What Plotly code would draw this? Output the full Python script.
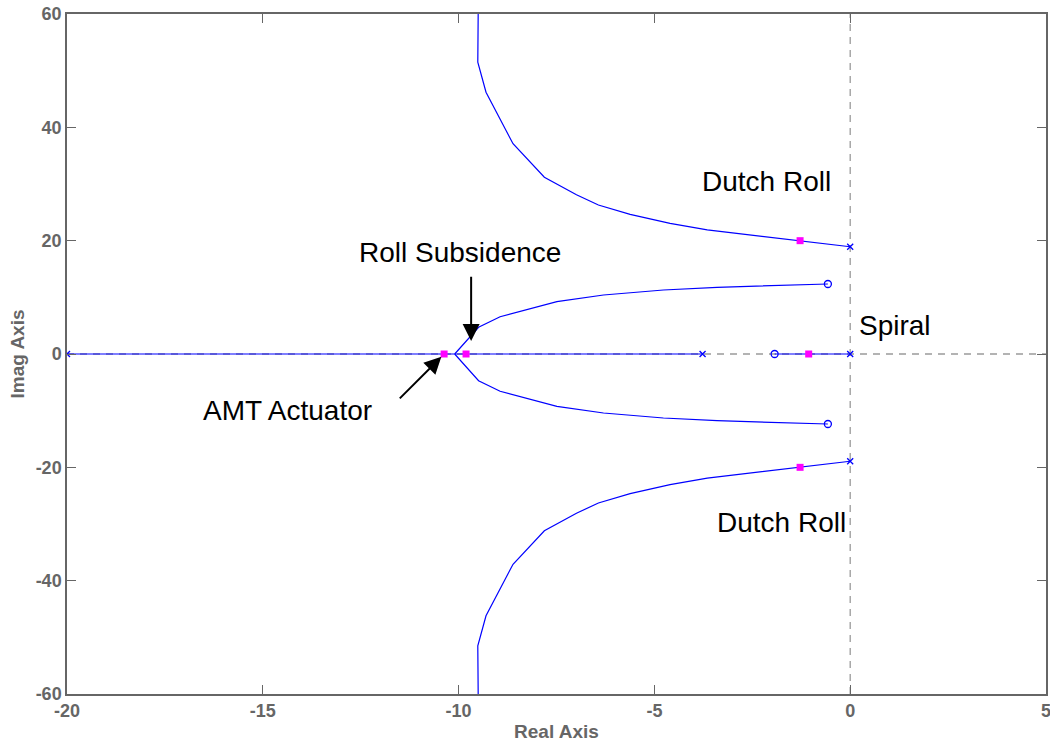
import plotly.graph_objects as go

# Upper Dutch-roll branch: pole at (0, 18.9) heading to the asymptote at -9.5
dutch_re = [0.0, -1.28, -1.97, -3.65, -4.60, -5.62, -6.43, -6.99, -7.81, -8.61, -9.30, -9.51, -9.50]
dutch_im = [18.93, 20.0, 20.6, 21.9, 23.06, 24.65, 26.3, 28.1, 31.2, 37.1, 46.2, 51.5, 60.0]

# Upper branch leaving the real axis at the breakaway point and ending on the complex zero
roll_re = [-10.10, -9.49, -8.94, -7.49, -6.30, -4.77, -3.40, -1.70, -0.57]
roll_im = [0.0, 4.71, 6.58, 9.23, 10.41, 11.29, 11.77, 12.05, 12.35]

# Real-axis segments
axis_left_re = [-20.0, -10.10]
axis_mid_re = [-10.10, -3.77]
axis_right_re = [-1.93, 0.0]

# Open-loop poles and zeros
pole_re = [-20.0, -3.77, 0.0, 0.0, 0.0]
pole_im = [0.0, 0.0, 0.0, 18.93, -18.93]
zero_re = [-1.93, -0.57, -0.57]
zero_im = [0.0, 12.35, -12.35]

# Closed-loop roots at the selected gain
cl_re = [-10.37, -9.81, -1.06, -1.28, -1.28]
cl_im = [0.0, 0.0, 0.0, 20.0, -20.0]

x_ticks = [-20, -15, -10, -5, 0, 5]
y_ticks = [-60, -40, -20, 0, 20, 40, 60]

BLUE = "#0000ff"
GRID = "#9a9a9a"
AXC = "#666666"
FONT = "Liberation Sans, Arial, sans-serif"

fig = go.Figure()

# Dashed zero lines
fig.add_trace(go.Scatter(x=[-20, 5], y=[0, 0], mode="lines",
                         line=dict(color=GRID, width=1.3, dash="7px,6px"),
                         hoverinfo="skip", showlegend=False))
fig.add_trace(go.Scatter(x=[0, 0], y=[-60, 60], mode="lines",
                         line=dict(color=GRID, width=1.3, dash="7px,6px"),
                         hoverinfo="skip", showlegend=False))

line_style = dict(color=BLUE, width=1.2)
for xs, ys in [
    (dutch_re, dutch_im),
    (dutch_re, [-v for v in dutch_im]),
    (roll_re, roll_im),
    (roll_re, [-v for v in roll_im]),
    (axis_left_re, [0, 0]),
    (axis_mid_re, [0, 0]),
    (axis_right_re, [0, 0]),
]:
    fig.add_trace(go.Scatter(x=xs, y=ys, mode="lines", line=line_style,
                             showlegend=False))

fig.add_trace(go.Scatter(x=pole_re, y=pole_im, mode="markers",
                         marker=dict(symbol="x-thin", size=6, color=BLUE,
                                     line=dict(color=BLUE, width=1.3)),
                         showlegend=False))
fig.add_trace(go.Scatter(x=zero_re, y=zero_im, mode="markers",
                         marker=dict(symbol="circle-open", size=7, color=BLUE,
                                     line=dict(color=BLUE, width=1.3)),
                         showlegend=False))
fig.add_trace(go.Scatter(x=cl_re, y=cl_im, mode="markers",
                         marker=dict(symbol="square", size=7, color="#ff00ff"),
                         showlegend=False))

label_font = dict(family=FONT, size=28, color="black")
for text, x, y in [
    ("Dutch Roll", -2.13, 30.4),
    ("Roll Subsidence", -9.96, 18.0),
    ("Spiral", 1.15, 5.1),
    ("AMT Actuator", -14.38, -9.9),
    ("Dutch Roll", -1.75, -29.8),
]:
    fig.add_annotation(x=x, y=y, text=text, showarrow=False, font=label_font,
                       xanchor="center", yanchor="middle")

# Pointer arrows
for tip, tail in [((-9.68, 2.3), (-9.68, 13.9)), ((-10.44, -0.5), (-11.54, -8.1))]:
    fig.add_annotation(x=tip[0], y=tip[1], ax=tail[0], ay=tail[1],
                       xref="x", yref="y", axref="x", ayref="y",
                       text="", showarrow=True, arrowhead=2, arrowsize=1.7,
                       arrowwidth=2, arrowcolor="black")

axis_common = dict(
    showgrid=False, zeroline=False, showline=True, linecolor=AXC, linewidth=1.5,
    mirror="ticks", ticks="inside", ticklen=9, tickwidth=1, tickcolor=AXC,
    automargin=False, ticklabeloverflow="allow",
    tickfont=dict(family=FONT, size=18, color=AXC, weight="bold"),
)

fig.update_xaxes(range=[-20, 5], tickvals=x_ticks, ticktext=[str(v) for v in x_ticks],
                 title=dict(text="<b>Real Axis</b>", standoff=4,
                            font=dict(family=FONT, size=19, color=AXC)),
                 **axis_common)
fig.update_yaxes(range=[-60, 60], tickvals=y_ticks, ticktext=[str(v) for v in y_ticks],
                 title=dict(text="<b>Imag Axis</b>", standoff=6,
                            font=dict(family=FONT, size=19, color=AXC)),
                 **axis_common)

fig.update_layout(
    width=1050, height=742,
    margin=dict(l=67, r=4, t=14, b=48),
    plot_bgcolor="white", paper_bgcolor="white",
    font=dict(family=FONT),
)

fig.write_html("out.html")
